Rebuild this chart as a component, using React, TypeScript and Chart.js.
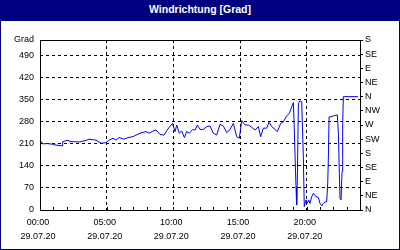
import React, { useEffect, useRef } from 'react';
import { Chart, registerables } from 'chart.js';

Chart.register(...registerables);

const chartTitle = 'Windrichtung [Grad]';
const unitLabel = 'Grad';
const dateLabel = '29.07.20';

const hours = [
  0.05, 0.2, 0.53, 0.95, 1.2, 1.65, 1.7, 2.1, 2.25, 2.63,
  2.93, 3.45, 3.68, 4.2, 4.58, 4.95, 5.18, 5.48, 5.7, 5.93,
  6.3, 6.6, 6.98, 7.2, 7.58, 7.95, 8.18, 8.48, 8.7, 9.0,
  9.3, 9.53, 9.93, 10.13, 10.25, 10.45, 10.63, 10.83, 11.0, 11.2,
  11.45, 11.63, 11.8, 12.0, 12.25, 12.5, 12.75, 13.0, 13.25, 13.5,
  13.75, 14.0, 14.25, 14.5, 14.75, 14.95, 15.13, 15.38, 15.63, 15.88,
  16.13, 16.38, 16.55, 16.75, 17.0, 17.18, 17.38, 17.63, 17.8, 18.05,
  18.25, 18.5, 18.7, 18.88, 19.0, 19.05, 19.13, 19.2, 19.25, 19.3,
  19.38, 19.5, 19.63, 19.75, 19.82, 19.95, 20.05, 20.15, 20.25, 20.38,
  20.5, 20.7, 20.88, 21.0, 21.13, 21.25, 21.38, 21.5, 21.58, 21.63,
  21.68, 21.8, 22.0, 22.3, 22.38, 22.45, 22.5, 22.58, 22.65, 22.7,
  22.75, 23.85,
];

const directionDeg = [
  219, 210, 211, 209, 206, 204, 217, 222, 217, 217,
  216, 221, 225, 222, 212, 214, 222, 228, 222, 230,
  225, 230, 233, 238, 245, 249, 244, 251, 254, 240,
  238, 254, 275, 249, 270, 244, 251, 230, 249, 244,
  256, 254, 270, 256, 256, 265, 267, 244, 238, 272,
  267, 246, 256, 275, 233, 228, 284, 270, 270, 263,
  254, 265, 233, 260, 260, 279, 265, 256, 249, 275,
  280, 299, 307, 328, 341, 286, 169, 74, 16, 95,
  339, 347, 344, 169, 11, 32, 21, 32, 21, 42,
  53, 42, 40, 21, 13, 21, 26, 26, 85, 169,
  296, 296, 299, 302, 244, 116, 37, 32, 122, 275,
  360, 360,
];

const leftTickValues = [0, 70, 140, 210, 280, 350, 420, 490, 540];
const compassTickValues = [0, 45, 90, 135, 180, 225, 270, 315, 360, 405, 450, 495, 540];
const compassLabels = ['N', 'NE', 'E', 'SE', 'S', 'SW', 'W', 'NW', 'N', 'NE', 'E', 'SE', 'S'];
const majorHours = [0, 5, 10, 15, 20];
const majorHourLabels = ['00:00', '05:00', '10:00', '15:00', '20:00'];

const tickFont = { family: '"Liberation Sans", Arial, sans-serif', size: 9, lineHeight: 1.6 };

const frameAndHourTicks = {
  id: 'frameAndHourTicks',
  afterDraw(chart: any) {
    const { ctx, chartArea } = chart;
    const { left, right, top, bottom } = chartArea;
    const xs = chart.scales.x;
    ctx.save();
    ctx.strokeStyle = '#000';
    ctx.lineWidth = 1;
    ctx.setLineDash([]);
    ctx.strokeRect(left + 0.5, top + 0.5, right - left, bottom - top);
    ctx.beginPath();
    for (let h = 1; h < 24; h++) {
      const x = Math.round(xs.getPixelForValue(h)) + 0.5;
      ctx.moveTo(x, bottom + 0.5);
      ctx.lineTo(x, bottom - 3);
    }
    ctx.stroke();
    ctx.restore();
  },
};

export default function App() {
  const ref = useRef<HTMLCanvasElement>(null);

  useEffect(() => {
    if (!ref.current) return;
    const chart = new Chart(ref.current, {
      type: 'line',
      data: {
        datasets: [
          {
            data: hours.map((h, i) => ({ x: h, y: directionDeg[i] })),
            borderColor: '#0000ff',
            borderWidth: 1,
            pointRadius: 0,
            tension: 0,
            fill: false,
            yAxisID: 'y',
          },
        ],
      },
      options: {
        responsive: false,
        animation: false,
        events: [],
        layout: { padding: { top: 19, left: 0, right: 0, bottom: 0 } },
        plugins: { legend: { display: false }, tooltip: { enabled: false }, title: { display: false } },
        scales: {
          x: {
            type: 'linear',
            position: 'bottom',
            min: 0,
            max: 24,
            afterBuildTicks: (s: any) => {
              const t = [];
              for (let h = 0; h <= 24; h++) t.push({ value: h });
              s.ticks = t;
            },
            afterFit: (s: any) => { s.height = 39; },
            ticks: {
              autoSkip: false,
              maxRotation: 0,
              minRotation: 0,
              color: '#000',
              font: tickFont,
              padding: 5,
              labelOffset: -2,
              callback: (v: any) => {
                const idx = majorHours.indexOf(Number(v));
                return idx >= 0 ? [majorHourLabels[idx], dateLabel] : '';
              },
            },
            grid: {
              drawTicks: false,
              lineWidth: 1,
              color: (c: any) => {
                const v = c.tick ? c.tick.value : -1;
                return v > 0 && v < 24 && v % 5 === 0 ? '#000' : 'rgba(0,0,0,0)';
              },
            },
            border: { display: false, dash: [3, 3] },
          },
          y: {
            position: 'left',
            min: 0,
            max: 540,
            afterBuildTicks: (s: any) => { s.ticks = leftTickValues.map((v) => ({ value: v })); },
            afterFit: (s: any) => { s.width = 39; },
            ticks: {
              autoSkip: false,
              color: '#000',
              font: tickFont,
              padding: 6,
              callback: (v: any) => (Number(v) === 540 ? unitLabel : String(v)),
            },
            grid: {
              drawTicks: false,
              lineWidth: 1,
              color: (c: any) => {
                const v = c.tick ? c.tick.value : -1;
                return v > 0 && v < 540 ? '#000' : 'rgba(0,0,0,0)';
              },
            },
            border: { display: false, dash: [3, 3] },
          },
          y2: {
            position: 'right',
            min: 0,
            max: 540,
            afterBuildTicks: (s: any) => { s.ticks = compassTickValues.map((v) => ({ value: v })); },
            afterFit: (s: any) => { s.width = 39; },
            ticks: {
              autoSkip: false,
              color: '#000',
              font: tickFont,
              padding: 2,
              callback: (_v: any, i: number) => compassLabels[i],
            },
            grid: {
              drawOnChartArea: false,
              drawTicks: true,
              tickLength: 3,
              tickColor: '#000',
              color: '#000',
            },
            border: { display: false },
          },
        },
      },
      plugins: [frameAndHourTicks],
    } as any);
    return () => chart.destroy();
  }, []);

  return (
    <div
      style={{
        position: 'fixed',
        left: 0,
        top: 0,
        width: 400,
        height: 250,
        boxSizing: 'border-box',
        border: '1px solid #000080',
        background: '#ffffff',
        overflow: 'hidden',
      }}
    >
      <div
        style={{
          height: 20,
          boxSizing: 'border-box',
          paddingTop: 2,
          background: '#000080',
          color: '#ffffff',
          textAlign: 'center',
          fontFamily: '"Liberation Sans", Arial, sans-serif',
          fontWeight: 'bold',
          fontSize: 10.5,
          lineHeight: 'normal',
          whiteSpace: 'nowrap',
        }}
      >
        {chartTitle}
      </div>
      <canvas ref={ref} width={398} height={228} style={{ display: 'block', width: 398, height: 228 }} />
    </div>
  );
}
